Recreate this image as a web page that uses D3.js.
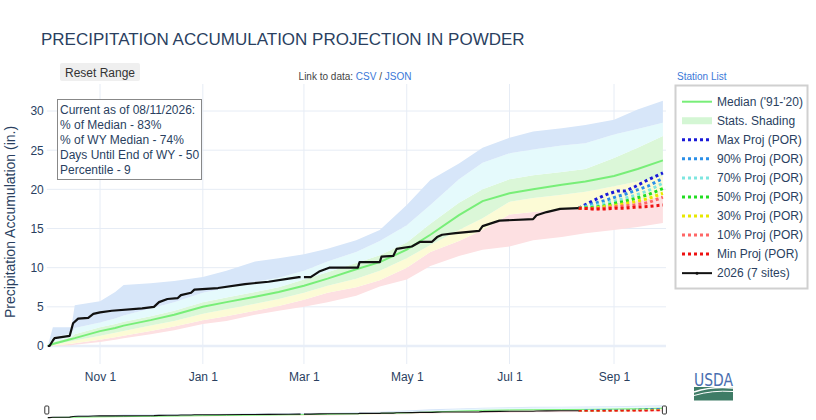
<!DOCTYPE html>
<html>
<head>
<meta charset="utf-8">
<script src="https://cdn.jsdelivr.net/npm/d3@7"></script>
<style>
  body { margin: 0; background: #fff; }
  svg { display: block; font-family: "Liberation Sans", Arial, sans-serif; }
</style>
</head>
<body>
<svg id="chart" width="816" height="420"></svg>
<script>
// stats for the water year (inches)
const statDates = ["10-01","10-04","10-15","10-17","11-01","11-10","11-15","12-01","12-15","01-01",
  "01-15","02-01","02-15","03-01","03-15","04-01","04-15","05-01","05-15","06-01",
  "06-15","07-01","07-15","08-01","08-15","09-01","09-15","09-30"];
const statMin = [0,0,0.1,0.15,0.5,0.8,1.0,1.5,2.0,2.8,3.2,4.0,4.5,5.0,5.6,6.4,7.6,8.5,10.2,11.5,12.3,12.7,13.5,13.9,14.4,14.8,15.2,15.7];
const stat10 = [0,0.05,0.3,0.35,0.8,1.1,1.3,1.9,2.5,3.3,3.8,4.5,5.1,5.9,6.8,7.5,8.4,10.0,12.0,13.4,14.8,16.8,17.1,17.4,17.7,18.2,18.6,19.1];
const stat30 = [0,0.15,0.6,0.7,1.3,1.7,1.9,2.6,3.2,4.1,4.7,5.4,6.0,6.8,7.7,8.6,9.6,11.2,12.9,14.8,16.3,18.4,18.9,19.3,19.7,20.4,21.0,21.7];
const median = [0,0.25,0.9,1.0,1.9,2.3,2.6,3.3,4.0,5.0,5.6,6.3,6.9,7.7,8.6,9.8,10.7,12.3,14.2,16.7,18.5,19.5,20.0,20.6,21.0,21.7,22.6,23.7];
const stat70 = [0,0.5,1.1,1.5,2.4,2.8,3.1,3.8,4.5,5.6,6.2,6.9,7.5,8.5,9.4,10.6,11.6,13.2,15.6,18.3,20.0,21.3,21.8,22.2,22.6,24.0,25.3,26.8];
const stat90 = [0,1.1,1.6,2.3,3.0,3.5,3.9,4.8,5.6,6.8,7.4,8.2,8.7,9.6,10.8,12.0,13.4,15.4,18.0,21.3,23.4,24.6,25.1,25.6,25.9,27.0,27.7,28.5];
const statMax = [0,2.4,2.4,5.2,5.7,6.9,7.8,8.0,8.3,8.8,9.6,10.8,11.2,11.7,12.4,13.5,14.8,18.0,21.2,23.3,25.3,26.6,27.4,27.8,28.2,28.9,30.2,31.3];

// 2026 observed accumulation (null = Feb 29 slot)
const obsDates = ["10-01","10-02","10-04","10-05","10-14","10-16","10-19","10-25","10-28","11-01",
  "11-08","11-26","12-03","12-06","12-11","12-17","12-19","12-25","12-27","01-10",
  "01-26","02-09","02-21","02-27","02-28","02-29","03-01","03-05","03-10","03-16",
  "04-02","04-03","04-15","04-16","04-23","04-25","05-04","05-09","05-16","05-19",
  "05-22","05-30","06-13","06-15","06-25","07-15","07-17","07-23","07-31","08-11"];
const obsValues = [0,0,0.7,1.0,1.3,2.9,3.5,3.6,4.1,4.3,
  4.5,4.8,5.0,5.6,6.0,6.1,6.5,6.8,7.2,7.4,
  7.9,8.2,8.6,8.8,8.8,null,8.8,8.8,9.5,10.0,
  10.0,10.7,10.7,11.4,11.5,12.4,12.7,13.3,13.3,13.9,
  14.2,14.4,14.7,15.3,16.0,16.2,16.7,17.1,17.5,17.6];

// projections from the current date to the end of the water year
const projDates = ["08-11","08-20","08-27","09-03","09-08","09-13","09-21","09-30"];
const projMax = [17.6,18.6,19.3,19.8,19.8,20.3,21.2,22.1];
const proj90 = [17.6,18.2,18.6,19.1,19.4,19.8,20.4,21.4];
const proj70 = [17.6,17.9,18.2,18.6,18.9,19.2,19.8,20.8];
const proj50 = [17.6,17.7,17.9,18.3,18.5,18.8,19.3,20.1];
const proj30 = [17.6,17.6,17.8,18.0,18.2,18.4,18.8,19.5];
const proj10 = [17.6,17.5,17.6,17.8,17.9,18.0,18.3,19.0];
const projMin = [17.6,17.5,17.5,17.6,17.6,17.7,17.8,18.0];

const xTickDates = ["11-01","01-01","03-01","05-01","07-01","09-01"];
const yTickValues = [0,5,10,15,20,25,30];

const legendLabels = ["Median ('91-'20)","Stats. Shading","Max Proj (POR)","90% Proj (POR)","70% Proj (POR)",
  "50% Proj (POR)","30% Proj (POR)","10% Proj (POR)","Min Proj (POR)","2026 (7 sites)"];
const infoLines = ["Current as of 08/11/2026:","% of Median - 83%","% of WY Median - 74%",
  "Days Until End of WY - 50","Percentile - 9"];

// water year plotted on a leap year so Feb 29 has a slot
const toDate = md => {
  const [m, d] = md.split("-").map(Number);
  return new Date(m >= 10 ? 2019 : 2020, m - 1, d);
};

const svg = d3.select("#chart");
const textColor = "#2a3f5f";
const plotLeft = 47.8, plotRight = 662.9, plotTop = 84, plotBottom = 364;

const x = d3.scaleTime().domain([toDate("10-01"), toDate("09-30")]).range([plotLeft, plotRight]);
const y = d3.scaleLinear().domain([-2.3, 33.45]).range([plotBottom, plotTop]);

// title
svg.append("text").attr("x", 41).attr("y", 44.5)
  .attr("font-size", 17).attr("fill", textColor)
  .text("PRECIPITATION ACCUMULATION PROJECTION IN POWDER");

// reset button
svg.append("rect").attr("x", 60).attr("y", 63).attr("width", 80).attr("height", 18)
  .attr("rx", 2).attr("fill", "#efefef");
svg.append("text").attr("x", 100).attr("y", 76.5).attr("text-anchor", "middle")
  .attr("font-size", 12).attr("fill", "#333").text("Reset Range");

// links
const link = svg.append("text").attr("x", 355).attr("y", 80).attr("text-anchor", "middle")
  .attr("font-size", 10).attr("fill", "#444");
link.append("tspan").text("Link to data: ");
link.append("tspan").attr("fill", "#3a78d8").text("CSV");
link.append("tspan").text(" / ");
link.append("tspan").attr("fill", "#3a78d8").text("JSON");
svg.append("text").attr("x", 677).attr("y", 80).attr("font-size", 10)
  .attr("fill", "#3a78d8").text("Station List");

// gridlines
const grid = svg.append("g");
grid.selectAll(".vg").data(xTickDates).enter().append("line")
  .attr("x1", d => x(toDate(d))).attr("x2", d => x(toDate(d)))
  .attr("y1", plotTop).attr("y2", plotBottom)
  .attr("stroke", "#e6ecf5").attr("stroke-width", 1);
grid.selectAll(".hg").data(yTickValues).enter().append("line")
  .attr("x1", plotLeft - 1).attr("x2", 666)
  .attr("y1", d => y(d)).attr("y2", d => y(d))
  .attr("stroke", d => d === 0 ? "#e8eef8" : "#e6ecf5")
  .attr("stroke-width", d => d === 0 ? 2.5 : 1);

// axes
const xAxis = svg.append("g").attr("transform", `translate(0,${plotBottom})`)
  .call(d3.axisBottom(x).tickValues(xTickDates.map(toDate))
    .tickFormat(d3.timeFormat("%b %-d")).tickSize(0).tickPadding(8.5));
const yAxis = svg.append("g").attr("transform", `translate(${plotLeft},0)`)
  .call(d3.axisLeft(y).tickValues(yTickValues).tickSize(0).tickPadding(4));
[xAxis, yAxis].forEach(a => {
  a.select(".domain").remove();
  a.selectAll("text").attr("font-size", 12).attr("fill", textColor)
    .attr("font-family", "Liberation Sans, Arial, sans-serif");
});

svg.append("text").attr("transform", "translate(15,222) rotate(-90)")
  .attr("text-anchor", "middle").attr("font-size", 14).attr("fill", textColor)
  .text("Precipitation Accumulation (in.)");

// series drawing, reused for the main plot and the range slider
const bandColors = ["#fde0e2", "#fcfbd6", "#dbf7d8", "#e5fafc", "#d7e6f9"];
const bands = [[statMin, stat10], [stat10, stat30], [stat30, stat70], [stat70, stat90], [stat90, statMax]];
const projSeries = [projMax, proj90, proj70, proj50, proj30, proj10, projMin];
const projColors = ["#1a1ad8", "#2a8fe8", "#7ee6e0", "#22dd22", "#e8e800", "#ff6666", "#ee1111"];
const medianColor = "#78ee78";

function drawSeries(g, xs, ys, scale) {
  const sd = statDates.map(toDate);
  bands.forEach((b, i) => {
    g.append("path")
      .attr("d", d3.area().x((d, j) => xs(sd[j])).y0((d, j) => ys(b[0][j])).y1((d, j) => ys(b[1][j]))(sd))
      .attr("fill", bandColors[i]);
  });
  g.append("path")
    .attr("d", d3.line().x((d, j) => xs(sd[j])).y((d, j) => ys(median[j]))(sd))
    .attr("fill", "none").attr("stroke", medianColor).attr("stroke-width", 2 * scale);
  const pd = projDates.map(toDate);
  projSeries.forEach((s, i) => {
    g.append("path")
      .attr("d", d3.line().x((d, j) => xs(pd[j])).y((d, j) => ys(s[j]))(pd))
      .attr("fill", "none").attr("stroke", projColors[i])
      .attr("stroke-width", 3 * scale).attr("stroke-dasharray", "3,3");
  });
  const od = obsDates.map(toDate);
  g.append("path")
    .attr("d", d3.line().defined((d, j) => obsValues[j] !== null)
      .x((d, j) => xs(od[j])).y((d, j) => ys(obsValues[j]))(od))
    .attr("fill", "none").attr("stroke", "#111").attr("stroke-width", 2.2 * scale)
    .attr("stroke-linejoin", "round");
}

drawSeries(svg.append("g"), x, y, 1);

// info box
const info = svg.append("g");
info.append("rect").attr("x", 57.5).attr("y", 99.5).attr("width", 144).attr("height", 80)
  .attr("fill", "#fff").attr("stroke", "#888").attr("stroke-width", 1);
info.selectAll("text").data(infoLines).enter().append("text")
  .attr("x", 60).attr("y", (d, i) => 113.5 + i * 15.2)
  .attr("font-size", 12).attr("fill", textColor).text(d => d);

// legend
const lg = svg.append("g");
lg.append("rect").attr("x", 675.5).attr("y", 85.5).attr("width", 132).attr("height", 203)
  .attr("fill", "#fff").attr("stroke", "#d0d0d0").attr("stroke-width", 2);
legendLabels.forEach((lab, i) => {
  const cy = 101.7 + i * 19.05;
  if (i === 0) {
    lg.append("line").attr("x1", 682).attr("x2", 712).attr("y1", cy).attr("y2", cy)
      .attr("stroke", medianColor).attr("stroke-width", 2);
  } else if (i === 1) {
    lg.append("rect").attr("x", 682).attr("y", cy - 3.5).attr("width", 30).attr("height", 7)
      .attr("fill", "#d4f6d4");
  } else if (i < 9) {
    lg.append("line").attr("x1", 682).attr("x2", 712).attr("y1", cy).attr("y2", cy)
      .attr("stroke", projColors[i - 2]).attr("stroke-width", 3).attr("stroke-dasharray", "3,3");
  } else {
    lg.append("line").attr("x1", 682).attr("x2", 712).attr("y1", cy).attr("y2", cy)
      .attr("stroke", "#111").attr("stroke-width", 2);
    lg.append("circle").attr("cx", 697).attr("cy", cy).attr("r", 1.5).attr("fill", "#111");
  }
  lg.append("text").attr("x", 717).attr("y", cy + 4.3).attr("font-size", 12)
    .attr("fill", textColor).text(lab);
});

// USDA mark
const logo = svg.append("g");
logo.append("text").attr("x", 713.5).attr("y", 386).attr("text-anchor", "middle")
  .attr("font-size", 17).attr("font-family", "DejaVu Sans Condensed, DejaVu Sans, sans-serif")
  .attr("fill", "#4a6fb0").attr("textLength", 39).attr("lengthAdjust", "spacingAndGlyphs")
  .text("USDA");
logo.append("rect").attr("x", 694).attr("y", 387).attr("width", 39).attr("height", 13.5)
  .attr("fill", "#3f7c66");
logo.append("path").attr("d", "M694,392 Q712,386 733,388").attr("fill", "none")
  .attr("stroke", "#fff").attr("stroke-width", 1.4);
logo.append("path").attr("d", "M694,395.5 Q712,390 733,391.5").attr("fill", "none")
  .attr("stroke", "#fff").attr("stroke-width", 1);

// range slider
const ys2 = d3.scaleLinear().domain([-2.3, 33.45]).range([418.5, 404.5]);
const slider = svg.append("g");
drawSeries(slider, x, ys2, 0.5);
[plotLeft - 1, plotRight + 1.5].forEach(hx => {
  slider.append("rect").attr("x", hx - 2).attr("y", 406).attr("width", 4).attr("height", 8)
    .attr("rx", 1).attr("fill", "#fff").attr("stroke", "#333").attr("stroke-width", 1);
});
</script>
</body>
</html>
